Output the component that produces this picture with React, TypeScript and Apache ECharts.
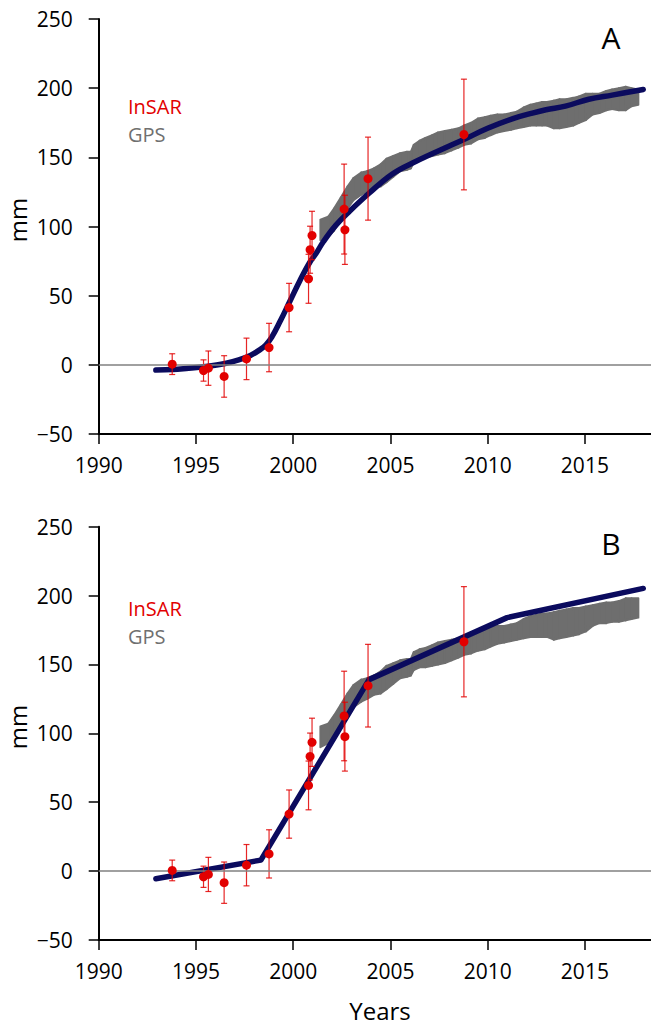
import React, { useEffect, useRef } from "react";
import * as echarts from "echarts";

// ---- data ----
const xTickValues = [1990, 1995, 2000, 2005, 2010, 2015];

const insarYears = [1993.78, 1995.39, 1995.64, 1996.45, 1997.6, 1998.76, 1999.79, 2000.79, 2000.87, 2000.97, 2002.62, 2002.66, 2003.85, 2008.78];
const insarMm = [0.5, -4.1, -2.4, -8.4, 4.3, 12.5, 41.4, 62.2, 83.2, 93.5, 112.6, 97.6, 134.6, 166.5];
const insarErr = [7.5, 7.7, 12.4, 15, 15, 17.5, 17.5, 17.7, 17, 17.5, 32.5, 25, 30, 40];

const gpsYears = [2001.4, 2001.8, 2002.1, 2002.45, 2002.8, 2003.1, 2003.5, 2003.8, 2004.15, 2004.5, 2004.8, 2005.15, 2005.5, 2005.85, 2006.05, 2006.2, 2006.5, 2006.8, 2007.15, 2007.45, 2007.8, 2008.15, 2008.5, 2008.8, 2009.15, 2009.5, 2009.85, 2010.15, 2010.5, 2010.85, 2011.2, 2011.5, 2011.85, 2012.2, 2012.5, 2012.8, 2013.05, 2013.4, 2013.7, 2014.05, 2014.4, 2014.7, 2015.05, 2015.4, 2015.75, 2016.1, 2016.4, 2016.75, 2017.1, 2017.4, 2017.75];
// GPS envelope as read in panel A
const gpsLowA = [90, 93, 97, 105, 113, 119, 123, 125, 128, 129, 132, 136, 140, 141, 142, 146, 149, 150, 151, 152, 153, 155, 157, 159, 160, 163, 164, 166, 168, 169, 170, 171, 172, 173, 173, 173, 173, 171, 171, 172, 173, 175, 177, 181, 182, 184, 185, 184, 184, 187, 188];
const gpsHighA = [105, 107, 113, 121, 129, 135, 139, 140, 142, 145, 149, 151, 153, 154, 154, 159, 162, 164, 166, 168, 169, 170, 171, 173, 175, 178, 179, 180, 181, 181, 182, 183, 186, 188, 189, 190, 190, 191, 192, 192, 193, 194, 196, 196, 196, 198, 199, 200, 201, 200, 199];
// GPS envelope as read in panel B
const gpsLowB = [90, 93, 97, 105, 113, 119, 123, 125, 128, 129, 132, 136, 140, 141, 142, 146, 148, 148, 149, 150, 151, 153, 155, 157, 158, 160, 161, 163, 165, 166, 167, 168, 169, 170, 170, 170, 170, 168, 169, 170, 171, 172, 174, 178, 180, 180, 181, 181, 182, 183, 184];
const gpsHighB = [105, 107, 113, 121, 129, 135, 139, 140, 142, 145, 149, 151, 153, 154, 154, 159, 161, 162, 164, 166, 167, 168, 169, 171, 172, 175, 176, 177, 178, 178, 179, 180, 183, 185, 186, 187, 187, 188, 189, 190, 191, 191, 192, 193, 194, 195, 195, 196, 198, 198, 198];

const modelAYears = [1992.94, 1993.8, 1994.5, 1995.5, 1996.5, 1997.2, 1997.8, 1998.3, 1998.6, 1998.9, 1999.35, 1999.85, 2000.35, 2000.85, 2001.2, 2001.55, 2002.2, 2002.9, 2003.9, 2005.1, 2006.3, 2008.0, 2008.8, 2010.0, 2011.3, 2012.3, 2013.0, 2014.0, 2015.2, 2016.4, 2018.0];
const modelAMm = [-3.8, -3.4, -2.6, -1.2, 1.0, 3.6, 6.8, 11, 14.5, 20, 32, 46.5, 61, 74, 81, 89, 101, 111, 124, 138, 147, 158, 163, 171, 178, 182, 184.4, 187, 192, 195, 199];

const modelBYears = [1992.94, 1998.34, 2003.9, 2011.0, 2018.0];
const modelBMm = [-5.5, 8, 139, 184, 205.2];

const FONT = "'Open Sans', 'Noto Sans', sans-serif";
const RED = "#e20000";
const GRAY = "#6e6e6e";
const NAVY = "#0b0b5e";

export default function App() {
  const ref = useRef<HTMLDivElement>(null);

  useEffect(() => {
    document.body.style.margin = "0";
    const chart = echarts.init(ref.current!, undefined, { renderer: "svg" });

    const insarData = insarYears.map((y, i) => [y, insarMm[i]]);
    const errData = insarYears.map((y, i) => [y, insarMm[i] - insarErr[i], insarMm[i] + insarErr[i]]);
    // one item per GPS band segment: [x0, low0, high0, x1, low1, high1]
    const segs = (lo: number[], hi: number[]) =>
      gpsYears.slice(0, -1).map((y, i) => [y, lo[i], hi[i], gpsYears[i + 1], lo[i + 1], hi[i + 1]]);
    const gpsSegs = [segs(gpsLowA, gpsHighA), segs(gpsLowB, gpsHighB)];
    const modelA = modelAYears.map((y, i) => [y, modelAMm[i]]);
    const modelB = modelBYears.map((y, i) => [y, modelBMm[i]]);

    const grids = [
      { left: 98.7, top: 19, width: 560, height: 415 },
      { left: 98.7, top: 526.7, width: 560, height: 413.3 },
    ];

    const xAxis = grids.map((_, gi) => ({
      type: "value",
      gridIndex: gi,
      min: 1990,
      max: 2018.4,
      interval: 5,
      axisLine: { show: true, onZero: false, lineStyle: { color: "#000", width: 2 } },
      axisTick: { show: true, inside: false, length: 10, customValues: xTickValues, lineStyle: { color: "#000", width: 1.5 } },
      axisLabel: { customValues: xTickValues, fontSize: 21, color: "#000", margin: 20, fontFamily: FONT, formatter: (v: number) => String(v) },
      splitLine: { show: false },
    }));

    const yAxis = grids.map((_, gi) => ({
      type: "value",
      gridIndex: gi,
      min: -50,
      max: 250,
      interval: 50,
      axisLine: { show: true, onZero: false, lineStyle: { color: "#000", width: 2 } },
      axisTick: { show: true, inside: false, length: 10, lineStyle: { color: "#000", width: 1.5 } },
      axisLabel: {
        fontSize: 21,
        color: "#000",
        margin: 26,
        fontFamily: FONT,
        formatter: (v: number) => (v < 0 ? "\u2212" + Math.abs(v) : String(v)),
      },
      splitLine: { show: false },
    }));

    const series: any[] = [];
    [modelA, modelB].forEach((model, gi) => {
      series.push({
        type: "line",
        xAxisIndex: gi,
        yAxisIndex: gi,
        data: [],
        z: 1,
        silent: true,
        markLine: {
          silent: true,
          symbol: ["none", "none"],
          label: { show: false },
          lineStyle: { color: "#808080", width: 1.5, type: "solid" },
          data: [{ yAxis: 0 }],
        },
      });
      series.push({
        type: "custom",
        xAxisIndex: gi,
        yAxisIndex: gi,
        data: gpsSegs[gi],
        z: 2,
        silent: true,
        encode: { x: [0, 3], y: [1, 2, 4, 5] },
        renderItem: (params: any, api: any) => {
          const a1 = api.coord([api.value(0), api.value(1)]);
          const a2 = api.coord([api.value(0), api.value(2)]);
          const b1 = api.coord([api.value(3), api.value(4)]);
          const b2 = api.coord([api.value(3), api.value(5)]);
          return {
            type: "polygon",
            shape: { points: [a1, b1, b2, a2] },
            style: { fill: GRAY, stroke: GRAY, lineWidth: 2, lineJoin: "round" },
          };
        },
      });
      series.push({
        type: "line",
        xAxisIndex: gi,
        yAxisIndex: gi,
        data: model,
        smooth: gi === 0 ? 0.4 : false,
        symbol: "none",
        z: 3,
        lineStyle: { color: NAVY, width: 5.5, cap: "round", join: "round" },
      });
      series.push({
        type: "custom",
        xAxisIndex: gi,
        yAxisIndex: gi,
        data: errData,
        z: 4,
        encode: { x: 0, y: [1, 2] },
        renderItem: (params: any, api: any) => {
          const x = api.value(0);
          const p1 = api.coord([x, api.value(1)]);
          const p2 = api.coord([x, api.value(2)]);
          const cap = 3;
          const style = { stroke: RED, lineWidth: 1.2, opacity: 0.85 };
          return {
            type: "group",
            children: [
              { type: "line", shape: { x1: p1[0], y1: p1[1], x2: p2[0], y2: p2[1] }, style },
              { type: "line", shape: { x1: p1[0] - cap, y1: p1[1], x2: p1[0] + cap, y2: p1[1] }, style },
              { type: "line", shape: { x1: p2[0] - cap, y1: p2[1], x2: p2[0] + cap, y2: p2[1] }, style },
            ],
          };
        },
      });
      series.push({
        type: "scatter",
        xAxisIndex: gi,
        yAxisIndex: gi,
        data: insarData,
        symbol: "circle",
        symbolSize: 9,
        z: 5,
        itemStyle: { color: RED, opacity: 1 },
      });
    });

    const textEl = (text: string, x: number, y: number, size: number, color: string, align = "left", rotation = 0) => ({
      type: "text",
      x,
      y,
      rotation,
      style: { text, fontSize: size, fill: color, fontFamily: FONT, textAlign: align, textVerticalAlign: "middle" },
      z: 10,
    });

    chart.setOption({
      animation: false,
      backgroundColor: "#fff",
      grid: grids,
      xAxis,
      yAxis,
      series,
      graphic: [
        textEl("A", 611, 37, 30, "#000", "center"),
        textEl("B", 611, 543, 30, "#000", "center"),
        textEl("InSAR", 128, 106, 20, RED),
        textEl("GPS", 128, 134, 20, "#707070"),
        textEl("InSAR", 128, 608, 20, RED),
        textEl("GPS", 128, 636, 20, "#707070"),
        textEl("mm", 17, 220, 24, "#000", "center", Math.PI / 2),
        textEl("mm", 17, 727, 24, "#000", "center", Math.PI / 2),
        textEl("Years", 380, 1010, 24, "#000", "center"),
      ],
    });

    return () => chart.dispose();
  }, []);

  return <div ref={ref} style={{ position: "absolute", left: 0, top: 0, width: 651, height: 1027 }} />;
}
